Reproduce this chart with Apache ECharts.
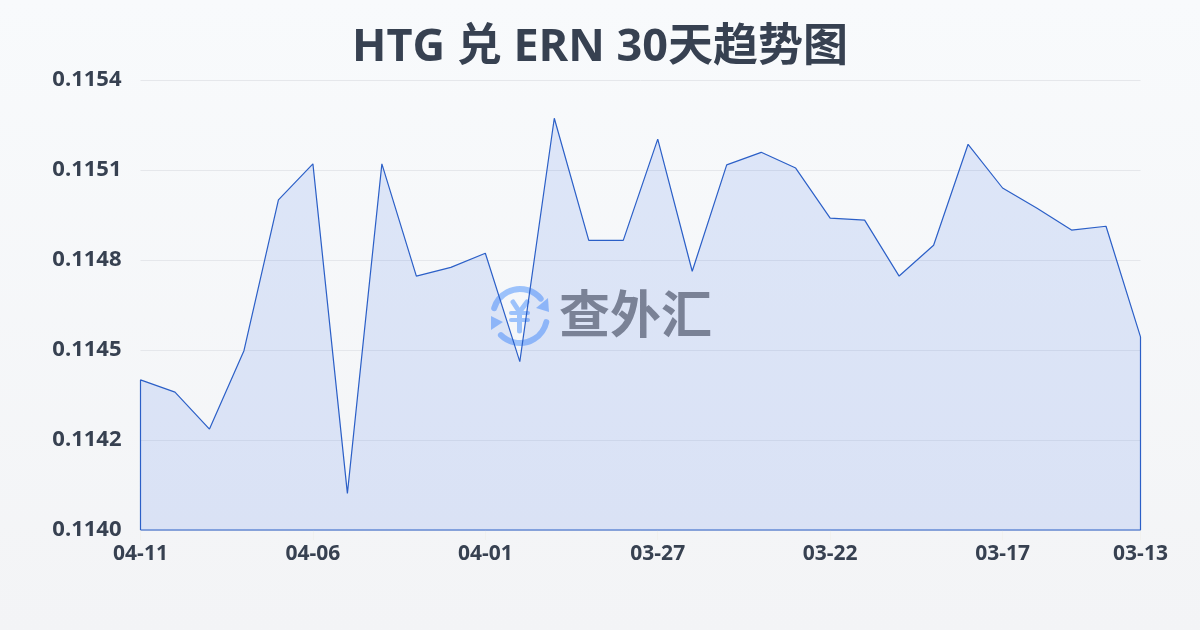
<!DOCTYPE html>
<html>
<head>
<meta charset="utf-8">
<style>
html,body{margin:0;padding:0;width:1200px;height:630px;overflow:hidden;background:linear-gradient(180deg,#f8fafc 0%,#f3f4f6 100%);}
#c{width:1200px;height:630px;}
</style>
<script src="https://cdn.jsdelivr.net/npm/echarts@6/dist/echarts.min.js"></script>
</head>
<body>
<div id="c"></div>
<script>
var titleText = 'HTG 兑 ERN 30天趋势图';
var watermarkText = '查外汇';
var categories = ['04-11','04-10','04-09','04-08','04-07','04-06','04-05','04-04','04-03','04-02',
  '04-01','03-31','03-30','03-29','03-28','03-27','03-26','03-25','03-24','03-23',
  '03-22','03-21','03-20','03-19','03-18','03-17','03-16','03-15','03-14','03-13'];
var rates = [0.114427,0.114389,0.114274,0.114518,0.114987,0.115099,0.114074,0.115099,0.114750,0.114777,
  0.114821,0.114484,0.115241,0.114861,0.114861,0.115176,0.114765,0.115096,0.115135,0.115086,
  0.114930,0.114924,0.114750,0.114846,0.115160,0.115024,0.114961,0.114893,0.114905,0.114561];
var yMin = 0.11396, yMax = 0.11536, yStep = 0.00028;

var last = categories.length - 1;
// closed outline: up the left edge, along the values, down the right edge, back along the base
var outline = [[0, yMin]].concat(rates.map(function (v, i) { return [i, v]; }), [[last, yMin], [0, yMin]]);
var showTick = function (i) { return i % 5 === 0 || i === last; };
var font = "'Open Sans','Noto Sans CJK SC',sans-serif";
var iconColor = '#9cc2fb';

var chart = echarts.init(document.getElementById('c'), null, {renderer: 'canvas'});
chart.setOption({
  backgroundColor: 'transparent',
  animation: false,
  title: {
    text: titleText, left: 'center', top: 21,
    textStyle: {fontFamily: font, fontSize: 45, fontWeight: 'bold', color: '#374151'}
  },
  grid: {left: 140.5, right: 59.5, top: 80, bottom: 100, containLabel: false},
  xAxis: {
    type: 'category', data: categories, boundaryGap: false,
    axisLine: {show: false},
    axisTick: {show: true, alignWithLabel: true, interval: function (i) { return showTick(i); }, length: 10, lineStyle: {color: '#f1f1ef', width: 1}},
    axisLabel: {interval: function (i) { return showTick(i); }, hideOverlap: false, margin: 14, fontFamily: font, fontSize: 21, fontWeight: 'bold', color: '#374151'},
    splitLine: {show: false}
  },
  yAxis: {
    type: 'value', min: yMin, max: yMax, interval: yStep,
    axisLine: {show: false}, axisTick: {show: false},
    axisLabel: {margin: 19, fontFamily: font, fontSize: 22, fontWeight: 'bold', color: '#374151',
      formatter: function (v) { return v.toFixed(4); }},
    splitLine: {show: true, lineStyle: {color: '#e5e7eb', width: 1}}
  },
  series: [{
    type: 'line', data: outline, z: 3, symbol: 'none', smooth: false, clip: false,
    lineStyle: {color: '#2b5fc7', width: 1.2},
    areaStyle: {color: 'rgba(37,99,235,0.18)', origin: 'start'}
  }],
  graphic: [
    {type: 'arc', z: 1, shape: {cx: 520, cy: 316, r: 27, startAngle: 197 * Math.PI / 180, endAngle: 320 * Math.PI / 180}, style: {fill: null, stroke: iconColor, lineWidth: 6, lineCap: 'round'}},
    {type: 'arc', z: 1, shape: {cx: 520, cy: 316, r: 27, startAngle: 13 * Math.PI / 180, endAngle: 135 * Math.PI / 180}, style: {fill: null, stroke: iconColor, lineWidth: 6, lineCap: 'round'}},
    {type: 'polygon', z: 1, shape: {points: [[548, 298], [549, 312], [536, 308]]}, style: {fill: iconColor}},
    {type: 'polygon', z: 1, shape: {points: [[491, 316], [491, 330], [503, 322]]}, style: {fill: iconColor}},
    {type: 'polyline', z: 1, shape: {points: [[513, 302], [519.5, 312], [527, 302]]}, style: {fill: null, stroke: iconColor, lineWidth: 5, lineCap: 'round'}},
    {type: 'line', z: 1, shape: {x1: 511, y1: 313, x2: 528, y2: 313}, style: {stroke: iconColor, lineWidth: 4, lineCap: 'round'}},
    {type: 'line', z: 1, shape: {x1: 511, y1: 320, x2: 528, y2: 320}, style: {stroke: iconColor, lineWidth: 4, lineCap: 'round'}},
    {type: 'line', z: 1, shape: {x1: 519.5, y1: 312, x2: 519.5, y2: 331}, style: {stroke: iconColor, lineWidth: 5, lineCap: 'round'}},
    {type: 'text', z: 10, left: 559, top: 288, style: {text: watermarkText, fontFamily: "'Noto Sans CJK SC',sans-serif", fontSize: 51, fontWeight: 'bold', fill: '#7a8296'}}
  ]
});
</script>
</body>
</html>
